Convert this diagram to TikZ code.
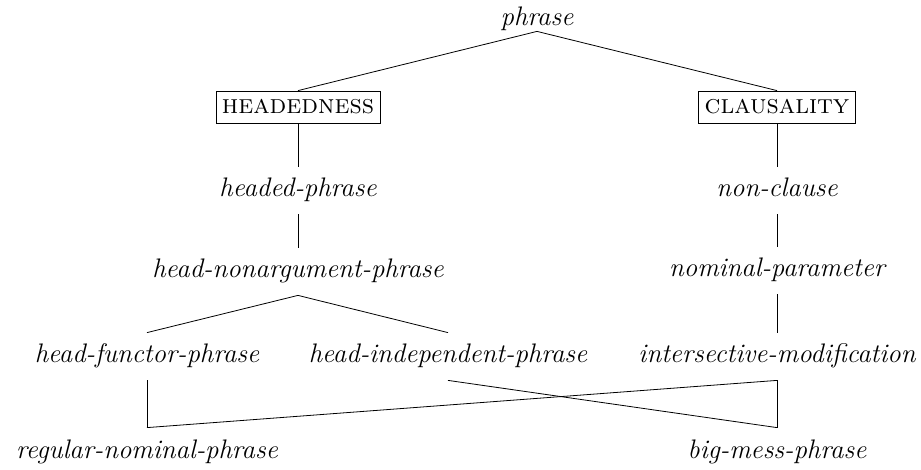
\documentclass[tikz,border=0pt]{standalone}
\usepackage{tikz}
\usetikzlibrary{positioning}

\begin{document}
\begin{tikzpicture}[x=0.5pt, y=-0.5pt,
    every node/.style={font=\fontsize{13.4}{16}\selectfont},
    tp/.style={font=\fontsize{13.4}{16}\selectfont\itshape, anchor=base,
      inner xsep=0pt, inner ysep=5.5pt, text height=9.5pt, text depth=3pt},
    dim/.style={draw, inner xsep=3pt, minimum height=16pt, font=\fontsize{13.4}{16}\selectfont\scshape}]
  \useasboundingbox (0,0) rectangle (921,470);
  % root and dimensions
  \node[tp, inner ysep=0pt, text depth=2.5pt] (phrase) at (537,26) {phrase};
  \node[dim] (headed) at (298,107) {headedness};
  \node[dim] (claus) at (777,107) {clausality};
  % types
  \node[tp] (hdph) at (298,197) {headed-phrase};
  \node[tp] (noncl) at (777,197) {non-clause};
  \node[tp] (hnarg) at (298,278) {head-nonargument-phrase};
  \node[tp] (nompar) at (777,277) {nominal-parameter};
  \node[tp] (hfunc) at (147,363) {head-functor-phrase};
  \node[tp] (hindep) at (448,363) {head-independent-phrase};
  \node[tp] (intmod) at (777,363) {intersective-modification};
  \node[tp] (regnom) at (147,458) {regular-nominal-phrase};
  \node[tp] (bigmess) at (777,458) {big-mess-phrase};
  % edges
  \draw (phrase.south) -- (headed.north);
  \draw (phrase.south) -- (claus.north);
  \draw (headed.south) -- (hdph.north);
  \draw (hdph.south) -- (hnarg.north);
  \draw (hnarg.south) -- (hfunc.north);
  \draw (hnarg.south) -- (hindep.north);
  \draw (claus.south) -- (noncl.north);
  \draw (noncl.south) -- (nompar.north);
  \draw (nompar.south) -- (intmod.north);
  \draw (hfunc.south) -- (regnom.north);
  \draw (intmod.south) -- (regnom.north);
  \draw (intmod.south) -- (bigmess.north);
  \draw (hindep.south) -- (bigmess.north);
\end{tikzpicture}
\end{document}
